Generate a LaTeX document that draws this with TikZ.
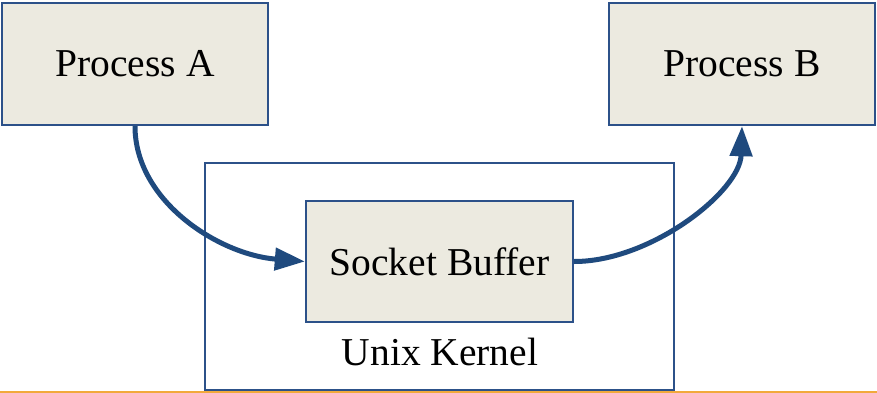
\documentclass[tikz,border=0pt]{standalone}
\usepackage{fontspec}
\setmainfont{Liberation Serif}
\usetikzlibrary{arrows.meta,calc}
\definecolor{boxfill}{HTML}{ECEAE0}
\definecolor{boxline}{HTML}{2C5189}
\definecolor{arrowblue}{HTML}{1F4A7E}
\definecolor{rule}{HTML}{F2A93B}
\tikzset{
  procbox/.style={draw=boxline, line width=2.4pt, fill=boxfill, rectangle, inner sep=0pt,
    font=\fontsize{39.5}{44}\selectfont},
  kernelbox/.style={draw=boxline, line width=2.4pt, fill=white, rectangle, inner sep=0pt},
  flow/.style={draw=arrowblue, line width=5pt, -{Triangle[length=30pt,width=22pt]}},
  lbl/.style={inner sep=0pt, font=\fontsize{39.5}{44}\selectfont}
}
\begin{document}
\begin{tikzpicture}[x=1pt,y=-1pt]
\useasboundingbox (0,0) rectangle (877,393);
\coordinate (L) at (0,392);
\coordinate (R) at (877,392);
\draw[rule, line width=2.2pt] (L) -- (R);
\node[kernelbox, minimum width=469pt, minimum height=227pt] (K) at (439.5,276.5) {};
\node[procbox, minimum width=266pt, minimum height=122pt] (A) at (135,64) {Process A};
\node[procbox, minimum width=266pt, minimum height=122pt] (B) at (742,64) {Process B};
\node[procbox, minimum width=267pt, minimum height=121pt] (S) at (439.5,261.5) {Socket Buffer};
\node[lbl] (KL) at (440,352) {Unix Kernel};
\draw[flow] (A.south) .. controls ($(A.south)+(0,75)$) and ($(S.west)+(-86,-7)$) .. (S.west);
\draw[flow] (S.east) .. controls ($(S.east)+(77,0)$) and ($(B.south)+(-2,65)$) .. (B.south);
\end{tikzpicture}
\end{document}
